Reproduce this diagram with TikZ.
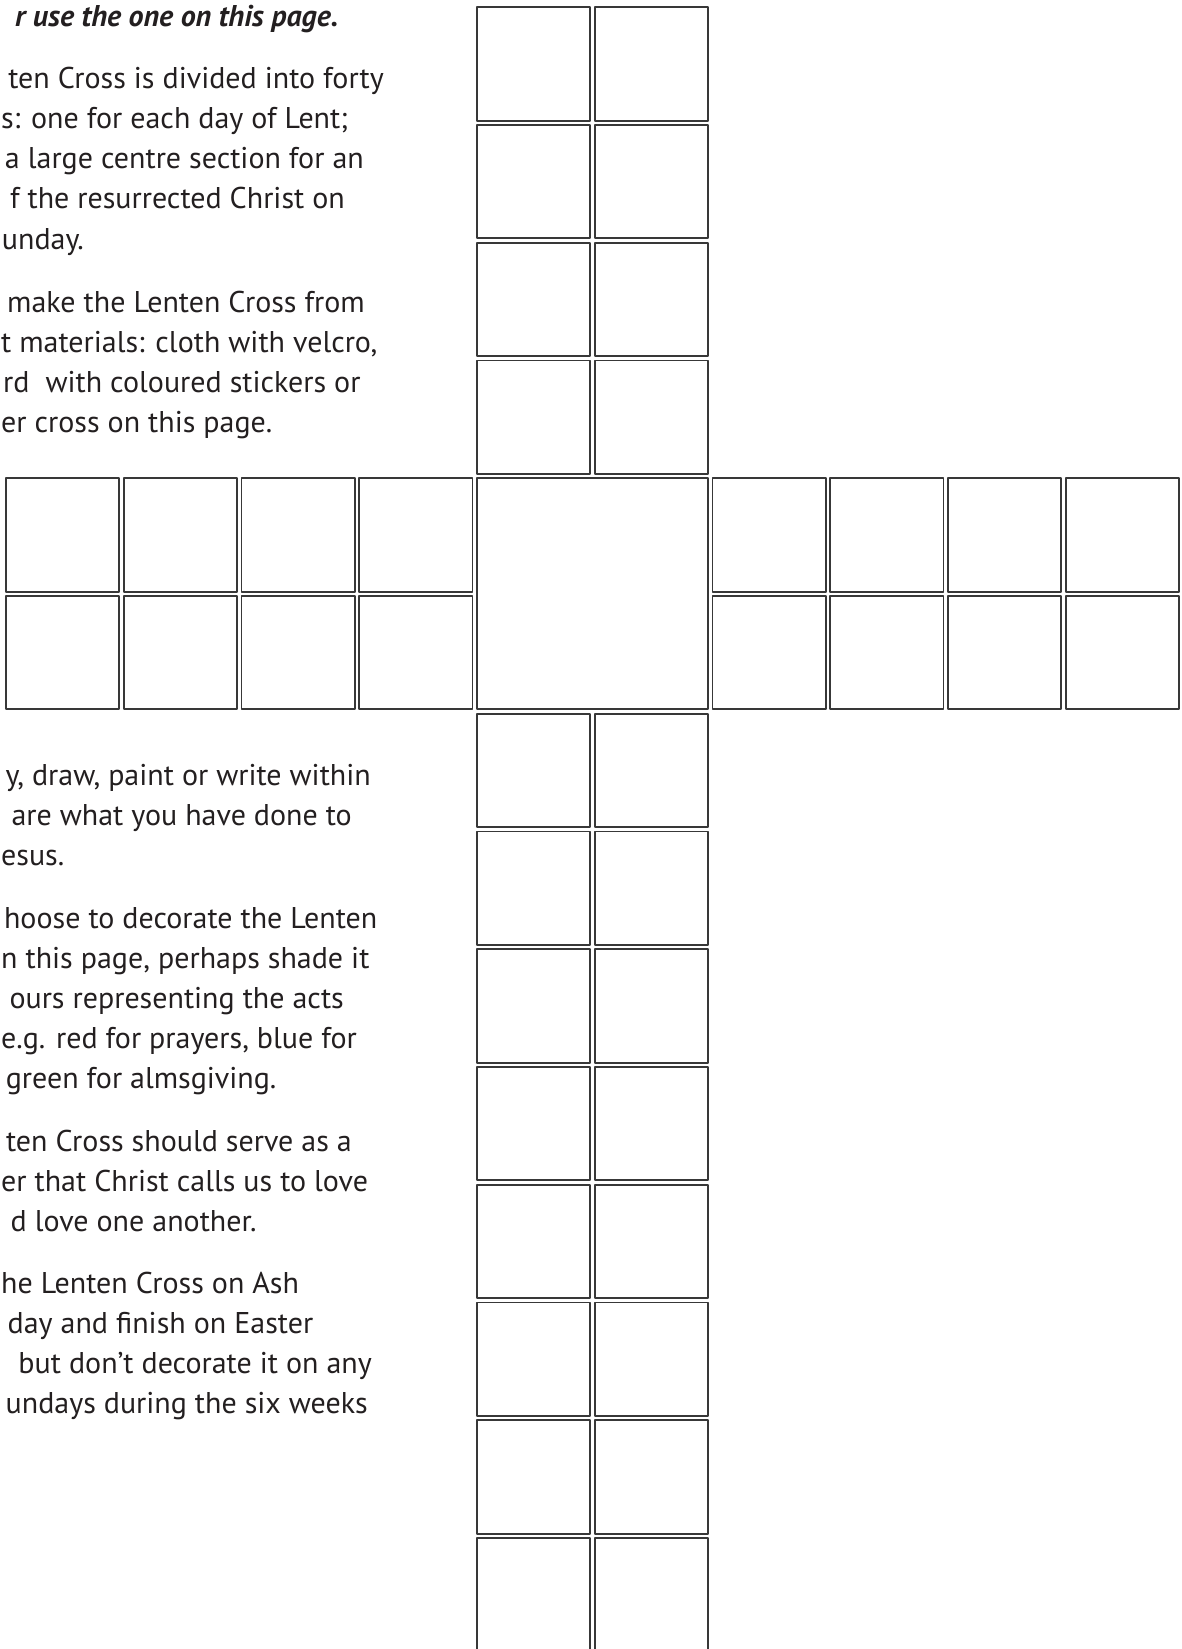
\documentclass[tikz,border=0pt]{standalone}
\usepackage{fontspec}
\setmainfont{PT Sans}
\definecolor{ink}{HTML}{231F20}
\definecolor{rule}{HTML}{383838}
\newcommand\bodysize{\fontsize{30}{39}\selectfont}
\begin{document}
\begin{tikzpicture}[x=1pt,y=-1pt,line cap=round,line join=round,
  cell/.style={draw=rule,line width=1.8pt},
  body/.style={anchor=base east,inner sep=0pt,text=ink,font=\bodysize},
  edge/.style={body,anchor=base west}]
\useasboundingbox (0,0) rectangle (1181,1649);
\clip (0,0) rectangle (1181,1649);
% upright beam
\foreach \r in {0,1,2,3,6,7,8,9,10,11,12,13}
  \foreach \c in {4,5}
    \draw[cell] ({6+117.75*\c},{7.3+117.75*\r}) rectangle +(113.3,113.3);
% cross beam
\foreach \c in {0,1,2,3,6,7,8,9}
  \foreach \r in {4,5}
    \draw[cell] ({6+117.75*\c},{7.3+117.75*\r}) rectangle +(113.3,113.3);
% centre
\draw[cell] ({6+117.75*4},{7.3+117.75*4}) rectangle +(231.05,231.05);
% text, top
\node[body,font=\bodysize\bfseries\itshape] (head) at (338.6,26) {r use the one on this page.};
\node[body] (a1) at (384,88) {ten Cross is divided into forty};
\node[edge] (a2) at (1,128) {s: one for each day of Lent;};
\node[body] (a3) at (364,168) {a large centre section for an};
\node[body] (a4) at (345,208) {f the resurrected Christ on};
\node[body] (a5) at (84,249) {unday.};
\node[body] (b1) at (365,312) {make the Lenten Cross from};
\node[edge] (b2) at (1,352) {t materials: cloth with velcro,};
\node[edge] (b3) at (3,392) {rd\ \ with coloured stickers or};
\node[edge] (b4) at (1,432) {er cross on this page.};
% text, bottom
\node[body] (c1) at (371,785) {y, draw, paint or write within};
\node[body] (c2) at (352,825) {are what you have done to};
\node[edge] (c3) at (1,865) {esus.};
\node[body] (d1) at (377.5,928) {hoose to decorate the Lenten};
\node[edge] (d2) at (1,968) {n this page, perhaps shade it};
\node[body] (d3) at (344,1008) {ours representing the acts};
\node[edge] (d4) at (1,1048) {e.g. red for prayers, blue for};
\node[body] (d5) at (276.6,1088) {green for almsgiving.};
\node[body] (e1) at (352,1151) {ten Cross should serve as a};
\node[edge] (e2) at (1,1191) {er that Christ calls us to love};
\node[body] (e3) at (256.6,1231) {d love one another.};
\node[edge] (f1) at (1,1293) {he Lenten Cross on Ash};
\node[body] (f2) at (313.4,1333) {day and finish on Easter};
\node[body] (f3) at (372,1373) {but don’t decorate it on any};
\node[body] (f4) at (368,1413) {undays during the six weeks};
\end{tikzpicture}
\end{document}
